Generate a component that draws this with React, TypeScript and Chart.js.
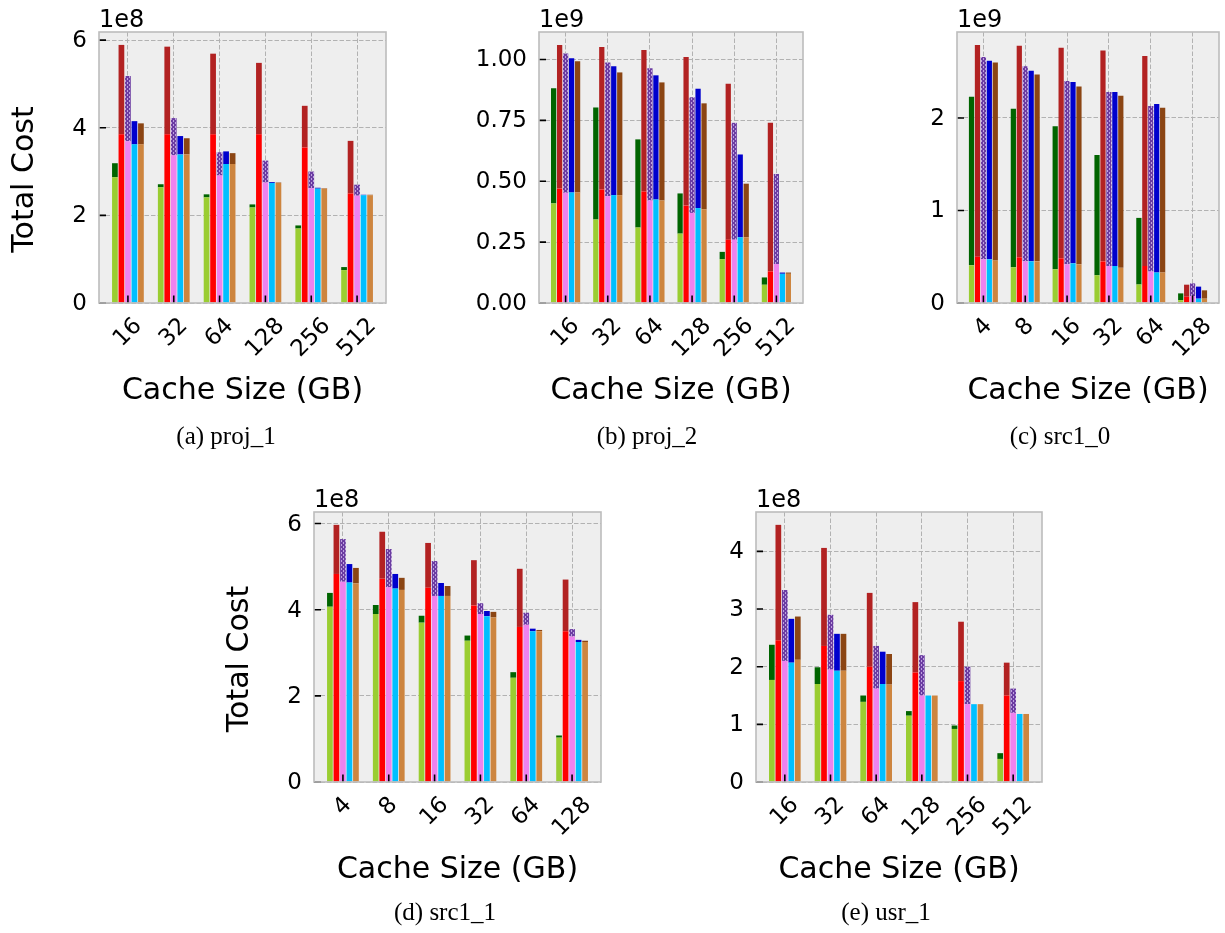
import React, { useEffect, useRef } from 'react';
import { Chart, registerables } from 'chart.js';

Chart.register(...registerables);

const W = 1225;
const H = 933;

// ---------- data (values in units of the panel's axis exponent) ----------
const proj1Cats = ['16', '32', '64', '128', '256', '512'];
const proj1GreenBase = [2.87, 2.64, 2.41, 2.18, 1.70, 0.75];
const proj1GreenTotal = [3.19, 2.71, 2.48, 2.25, 1.77, 0.82];
const proj1RedBase = [3.85, 3.85, 3.85, 3.85, 3.55, 2.50];
const proj1RedTotal = [5.89, 5.85, 5.69, 5.48, 4.50, 3.70];
const proj1VioletBase = [3.69, 3.37, 2.91, 2.75, 2.62, 2.45];
const proj1VioletTotal = [5.18, 4.22, 3.44, 3.25, 3.00, 2.70];
const proj1BlueBase = [3.62, 3.39, 3.17, 2.74, 2.61, 2.46];
const proj1BlueTotal = [4.15, 3.81, 3.46, 2.76, 2.63, 2.47];
const proj1OrangeBase = [3.62, 3.39, 3.17, 2.74, 2.61, 2.46];
const proj1OrangeTotal = [4.10, 3.76, 3.42, 2.75, 2.62, 2.47];
const proj1YTicks = [0, 2, 4, 6];

const proj2Cats = ['16', '32', '64', '128', '256', '512'];
const proj2GreenBase = [0.409, 0.343, 0.310, 0.285, 0.180, 0.075];
const proj2GreenTotal = [0.882, 0.803, 0.672, 0.450, 0.210, 0.105];
const proj2RedBase = [0.470, 0.466, 0.458, 0.400, 0.260, 0.130];
const proj2RedTotal = [1.060, 1.051, 1.039, 1.010, 0.900, 0.740];
const proj2VioletBase = [0.453, 0.439, 0.421, 0.370, 0.260, 0.160];
const proj2VioletTotal = [1.025, 0.988, 0.964, 0.845, 0.740, 0.530];
const proj2BlueBase = [0.454, 0.443, 0.425, 0.390, 0.270, 0.120];
const proj2BlueTotal = [1.005, 0.972, 0.935, 0.880, 0.610, 0.125];
const proj2OrangeBase = [0.454, 0.443, 0.421, 0.385, 0.270, 0.120];
const proj2OrangeTotal = [0.993, 0.947, 0.906, 0.820, 0.490, 0.125];
const proj2YTicks = [0, 0.25, 0.5, 0.75, 1.0];

const src10Cats = ['4', '8', '16', '32', '64', '128'];
const src10GreenBase = [0.407, 0.386, 0.364, 0.300, 0.200, 0.030];
const src10GreenTotal = [2.23, 2.10, 1.91, 1.60, 0.92, 0.104];
const src10RedBase = [0.500, 0.494, 0.483, 0.450, 0.400, 0.068];
const src10RedTotal = [2.79, 2.78, 2.76, 2.73, 2.67, 0.198];
const src10VioletBase = [0.472, 0.450, 0.418, 0.400, 0.340, 0.075];
const src10VioletTotal = [2.66, 2.56, 2.40, 2.28, 2.13, 0.212];
const src10BlueBase = [0.472, 0.450, 0.429, 0.400, 0.330, 0.047];
const src10BlueTotal = [2.62, 2.51, 2.39, 2.28, 2.15, 0.177];
const src10OrangeBase = [0.460, 0.450, 0.418, 0.380, 0.330, 0.047];
const src10OrangeTotal = [2.60, 2.47, 2.34, 2.24, 2.11, 0.137];
const src10YTicks = [0, 1, 2];

const src11Cats = ['4', '8', '16', '32', '64', '128'];
const src11GreenBase = [4.07, 3.90, 3.70, 3.28, 2.42, 1.03];
const src11GreenTotal = [4.39, 4.11, 3.86, 3.40, 2.55, 1.08];
const src11RedBase = [4.83, 4.72, 4.51, 4.10, 3.60, 3.50];
const src11RedTotal = [5.97, 5.81, 5.55, 5.15, 4.95, 4.70];
const src11VioletBase = [4.65, 4.52, 4.32, 3.90, 3.65, 3.38];
const src11VioletTotal = [5.64, 5.41, 5.13, 4.15, 3.93, 3.55];
const src11BlueBase = [4.63, 4.49, 4.32, 3.85, 3.50, 3.25];
const src11BlueTotal = [5.06, 4.83, 4.62, 3.97, 3.56, 3.30];
const src11OrangeBase = [4.61, 4.46, 4.32, 3.82, 3.50, 3.25];
const src11OrangeTotal = [4.97, 4.74, 4.55, 3.95, 3.53, 3.28];
const src11YTicks = [0, 2, 4, 6];

const usr1Cats = ['16', '32', '64', '128', '256', '512'];
const usr1GreenBase = [1.77, 1.70, 1.39, 1.15, 0.92, 0.40];
const usr1GreenTotal = [2.38, 1.99, 1.50, 1.23, 0.98, 0.50];
const usr1RedBase = [2.46, 2.36, 2.00, 1.90, 1.75, 1.50];
const usr1RedTotal = [4.46, 4.06, 3.28, 3.12, 2.78, 2.07];
const usr1VioletBase = [2.10, 1.95, 1.62, 1.50, 1.35, 1.20];
const usr1VioletTotal = [3.33, 2.90, 2.36, 2.20, 2.00, 1.62];
const usr1BlueBase = [2.07, 1.93, 1.70, 1.50, 1.35, 1.18];
const usr1BlueTotal = [2.83, 2.57, 2.26, 1.50, 1.35, 1.18];
const usr1OrangeBase = [2.12, 1.93, 1.69, 1.50, 1.35, 1.18];
const usr1OrangeTotal = [2.87, 2.57, 2.22, 1.50, 1.35, 1.18];
const usr1YTicks = [0, 1, 2, 3, 4];

// ---------- styling ----------
const OFFSETS = [-0.284, -0.142, 0, 0.142, 0.284];
const BASE_COLORS = ['#9acd32', '#ff0000', '#ee82ee', '#00bfff', '#cd853f'];
const TOP_COLORS = ['#006400', '#b22222', 'HATCH', '#0000cd', '#8b4513'];
const NUM_FONT = '23px "DejaVu Sans"';
const TITLE_FONT = '30px "DejaVu Sans"';
const CAPTION_FONT = '25px "Liberation Serif"';

type Rect = { l: number; t: number; r: number; b: number };
type Panel = {
  id: string;
  caption: string;
  captionX: number;
  captionY: number;
  cats: string[];
  exp: string;
  yTicks: number[];
  fmt: (v: number) => string;
  yTitle: boolean;
  rect: Rect;
  series: [number[], number[]][];
};

const intFmt = (v: number) => String(v);
const twoFmt = (v: number) => v.toFixed(2);

const PANELS: Panel[] = [
  {
    id: 'a', caption: '(a) proj_1', captionX: 226, captionY: 444, cats: proj1Cats, exp: '1e8',
    yTicks: proj1YTicks, fmt: intFmt, yTitle: true, rect: { l: 99, t: 32, r: 386, b: 303 },
    series: [[proj1GreenBase, proj1GreenTotal], [proj1RedBase, proj1RedTotal], [proj1VioletBase, proj1VioletTotal],
      [proj1BlueBase, proj1BlueTotal], [proj1OrangeBase, proj1OrangeTotal]],
  },
  {
    id: 'b', caption: '(b) proj_2', captionX: 647, captionY: 444, cats: proj2Cats, exp: '1e9',
    yTicks: proj2YTicks, fmt: twoFmt, yTitle: false, rect: { l: 539, t: 32, r: 803, b: 303 },
    series: [[proj2GreenBase, proj2GreenTotal], [proj2RedBase, proj2RedTotal], [proj2VioletBase, proj2VioletTotal],
      [proj2BlueBase, proj2BlueTotal], [proj2OrangeBase, proj2OrangeTotal]],
  },
  {
    id: 'c', caption: '(c) src1_0', captionX: 1060, captionY: 444, cats: src10Cats, exp: '1e9',
    yTicks: src10YTicks, fmt: intFmt, yTitle: false, rect: { l: 957, t: 32, r: 1219, b: 303 },
    series: [[src10GreenBase, src10GreenTotal], [src10RedBase, src10RedTotal], [src10VioletBase, src10VioletTotal],
      [src10BlueBase, src10BlueTotal], [src10OrangeBase, src10OrangeTotal]],
  },
  {
    id: 'd', caption: '(d) src1_1', captionX: 445, captionY: 920, cats: src11Cats, exp: '1e8',
    yTicks: src11YTicks, fmt: intFmt, yTitle: true, rect: { l: 314, t: 512, r: 601, b: 782 },
    series: [[src11GreenBase, src11GreenTotal], [src11RedBase, src11RedTotal], [src11VioletBase, src11VioletTotal],
      [src11BlueBase, src11BlueTotal], [src11OrangeBase, src11OrangeTotal]],
  },
  {
    id: 'e', caption: '(e) usr_1', captionX: 886, captionY: 920, cats: usr1Cats, exp: '1e8',
    yTicks: usr1YTicks, fmt: intFmt, yTitle: false, rect: { l: 756, t: 512, r: 1042, b: 782 },
    series: [[usr1GreenBase, usr1GreenTotal], [usr1RedBase, usr1RedTotal], [usr1VioletBase, usr1VioletTotal],
      [usr1BlueBase, usr1BlueTotal], [usr1OrangeBase, usr1OrangeTotal]],
  },
];

function makeHatch(): CanvasPattern | string {
  const c = document.createElement('canvas');
  c.width = 4;
  c.height = 4;
  const g = c.getContext('2d');
  if (!g) return '#663399';
  g.fillStyle = '#6c3da2';
  g.fillRect(0, 0, 4, 4);
  g.fillStyle = 'rgba(205,180,235,0.85)';
  g.fillRect(1, 0, 1, 2);
  g.fillRect(3, 2, 1, 2);
  return g.createPattern(c, 'repeat') || '#663399';
}

function PanelChart({ p }: { p: Panel }) {
  const ref = useRef<HTMLCanvasElement | null>(null);
  useEffect(() => {
    const canvas = ref.current;
    if (!canvas) return;
    const hatch = makeHatch();
    const datasets: any[] = [];
    p.series.forEach(([base, total], k) => {
      datasets.push({
        data: p.cats.map((_, i) => ({ x: i + OFFSETS[k], y: [0, base[i]] })),
        backgroundColor: BASE_COLORS[k],
        borderWidth: 0,
        grouped: false,
        categoryPercentage: 1,
        barPercentage: 0.88,
      });
      datasets.push({
        data: p.cats.map((_, i) => ({ x: i + OFFSETS[k], y: [base[i], total[i]] })),
        backgroundColor: TOP_COLORS[k] === 'HATCH' ? hatch : TOP_COLORS[k],
        borderWidth: 0,
        grouped: false,
        categoryPercentage: 1,
        barPercentage: 0.88,
      });
    });
    const allTotals = p.series.flatMap(([b, t]) => t.concat(b));
    const yMax = Math.max(...allTotals) * 1.05;
    const n = p.cats.length;
    const span = (n - 1) + 2 * 0.3465;
    const margin = span * 0.05;
    const xMin = -0.3465 - margin;
    const xMax = n - 1 + 0.3465 + margin;

    const deco = {
      id: 'deco' + p.id,
      beforeDraw(chart: any) {
        const { ctx, chartArea: ca } = chart;
        ctx.save();
        ctx.fillStyle = '#eeeeee';
        ctx.fillRect(ca.left, ca.top, ca.right - ca.left, ca.bottom - ca.top);
        ctx.restore();
      },
      afterDraw(chart: any) {
        const { ctx, chartArea: ca, scales } = chart;
        const xs = scales.x;
        const ys = scales.y;
        ctx.save();
        // inward ticks
        ctx.strokeStyle = '#000';
        ctx.lineWidth = 1.6;
        ctx.beginPath();
        p.yTicks.forEach((v) => {
          const y = ys.getPixelForValue(v);
          ctx.moveTo(ca.left, y);
          ctx.lineTo(ca.left + 7, y);
        });
        p.cats.forEach((_, i) => {
          const x = xs.getPixelForValue(i);
          ctx.moveTo(x, ca.bottom);
          ctx.lineTo(x, ca.bottom - 7.5);
        });
        ctx.stroke();
        // spines
        ctx.strokeStyle = '#bcbcbc';
        ctx.lineWidth = 1.6;
        ctx.strokeRect(ca.left, ca.top, ca.right - ca.left, ca.bottom - ca.top);
        // y tick labels
        ctx.fillStyle = '#000';
        ctx.font = NUM_FONT;
        ctx.textAlign = 'right';
        ctx.textBaseline = 'middle';
        p.yTicks.forEach((v) => {
          ctx.fillText(p.fmt(v), ca.left - 12, ys.getPixelForValue(v) + 1);
        });
        // x tick labels, rotated 45, centered on tick
        ctx.textAlign = 'center';
        ctx.textBaseline = 'middle';
        p.cats.forEach((c, i) => {
          const x = xs.getPixelForValue(i);
          const w = ctx.measureText(c).width;
          const h = 23 * 1.16;
          const bb = (w + h) * Math.SQRT1_2;
          ctx.save();
          ctx.translate(x, ca.bottom + 10 + bb / 2);
          ctx.rotate(-Math.PI / 4);
          ctx.fillText(c, 0, 0);
          ctx.restore();
        });
        // exponent
        ctx.font = '24px "DejaVu Sans"';
        ctx.textAlign = 'left';
        ctx.textBaseline = 'alphabetic';
        ctx.fillText(p.exp, ca.left, ca.top - 5);
        // x title
        ctx.font = TITLE_FONT;
        ctx.textAlign = 'center';
        ctx.fillText('Cache Size (GB)', (ca.left + ca.right) / 2, ca.bottom + 96);
        // y title
        if (p.yTitle) {
          ctx.save();
          ctx.translate(ca.left - 74, (ca.top + ca.bottom) / 2 + 12);
          ctx.rotate(-Math.PI / 2);
          ctx.textBaseline = 'middle';
          ctx.fillText('Total Cost', 0, 0);
          ctx.restore();
        }
        // caption
        ctx.font = CAPTION_FONT;
        ctx.textAlign = 'center';
        ctx.fillText(p.caption, p.captionX, p.captionY);
        ctx.restore();
      },
    };

    const chart = new Chart(canvas, {
      type: 'bar',
      data: { datasets },
      options: {
        animation: false,
        responsive: false,
        maintainAspectRatio: false,
        devicePixelRatio: 1,
        events: [],
        layout: { padding: { left: p.rect.l, top: p.rect.t, right: W - p.rect.r, bottom: H - p.rect.b } },
        plugins: { legend: { display: false }, tooltip: { enabled: false } },
        scales: {
          x: {
            type: 'linear',
            min: xMin,
            max: xMax,
            offset: false,
            z: 1,
            afterBuildTicks: (s: any) => { s.ticks = p.cats.map((_, i) => ({ value: i })); },
            afterFit: (s: any) => { s.height = 0; },
            ticks: { display: false },
            grid: { color: '#b2b2b2', lineWidth: 1, drawTicks: false, offset: false },
            border: { display: false, dash: [4.5, 2] },
          },
          y: {
            type: 'linear',
            min: 0,
            max: yMax,
            z: 1,
            afterBuildTicks: (s: any) => { s.ticks = p.yTicks.map((v) => ({ value: v })); },
            afterFit: (s: any) => { s.width = 0; },
            ticks: { display: false },
            grid: { color: '#b2b2b2', lineWidth: 1, drawTicks: false },
            border: { display: false, dash: [4.5, 2] },
          },
        },
      } as any,
      plugins: [deco],
    });
    return () => chart.destroy();
  }, [p]);
  return (
    <canvas
      ref={ref}
      width={W}
      height={H}
      style={{ position: 'absolute', left: 0, top: 0, width: W, height: H }}
    />
  );
}

export default function App() {
  return (
    <div style={{ position: 'absolute', left: 0, top: 0, width: W, height: H, background: '#fff' }}>
      {PANELS.map((p) => (
        <PanelChart key={p.id} p={p} />
      ))}
    </div>
  );
}
